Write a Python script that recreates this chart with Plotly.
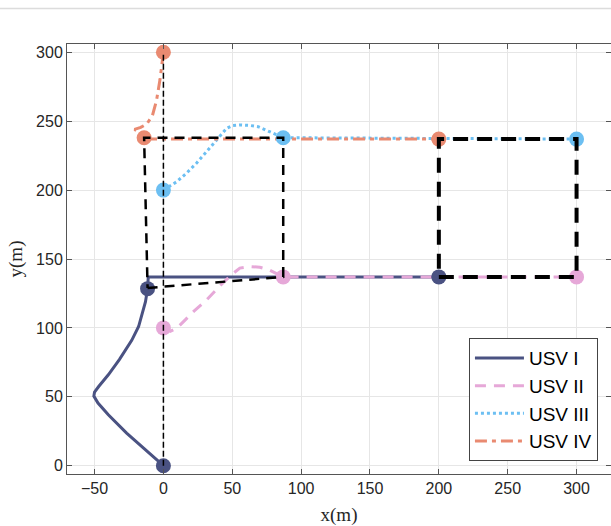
import plotly.graph_objects as go

# ---------------- data ----------------
names = ["USV I", "USV II", "USV III", "USV IV"]
colors = ["#4a5282", "#e6a8d8", "#6cbff2", "#e98a71"]

usv1_x = [0, -13, -26.7, -40, -47.5, -50.5, -50, -47, -40, -32, -23, -18, -15.5, -13, -11.5, -11, 200]
usv1_y = [0, 11.5, 23.7, 37, 45.5, 50.5, 53.5, 57.5, 66, 77, 91, 101, 110, 119, 128.5, 137, 137]

usv2_x = [0, 5, 10, 14.4, 22, 31, 43, 50, 55.5, 62.8, 70, 77, 83, 87, 300]
usv2_y = [100, 97.5, 100, 104.6, 112, 120, 132.5, 139, 143.4, 144.5, 144, 142, 139, 137, 137]

usv3_x = [0, 9.6, 17, 24, 31, 38.6, 45.9, 50, 55.5, 62, 68.8, 77, 83, 87, 300]
usv3_y = [200, 206, 212.5, 219.5, 227.5, 236.4, 244.8, 246.8, 247.3, 247, 246, 242.4, 239.5, 238, 237]

usv4_x = [0, -1.2, -2.5, -5, -8, -12, -16.5, -21, -17.5, -14.5, -14, 200]
usv4_y = [300, 290, 280, 265, 254, 248, 245.5, 244, 242, 240.5, 237, 237]

# marker points: start, formation point, final point
mk1_x, mk1_y = [0, -11.5, 200], [0, 128.5, 137]
mk2_x, mk2_y = [0, 87, 300], [100, 137, 137]
mk3_x, mk3_y = [0, 87, 300], [200, 238, 237]
mk4_x, mk4_y = [0, -14, 200], [300, 238, 237]

# reference lines
ref0_x, ref0_y = [0, 0], [0, 300]
refA_x = [-11.5, 87, 87, -14, -11.5]
refA_y = [129, 137, 238, 238, 129]
refB_x = [200, 300, 300, 200, 200]
refB_y = [137, 137, 237, 237, 137]

x_ticks = [-50, 0, 50, 100, 150, 200, 250, 300]
y_ticks = [0, 50, 100, 150, 200, 250, 300]

paths = [(usv1_x, usv1_y), (usv2_x, usv2_y), (usv3_x, usv3_y), (usv4_x, usv4_y)]
marks = [(mk1_x, mk1_y), (mk2_x, mk2_y), (mk3_x, mk3_y), (mk4_x, mk4_y)]
dashes = ["solid", "11px,8px", "3px,3px", "12px,5px,4px,5px"]

fig = go.Figure()
for (px, py), n, c, d in zip(paths, names, colors, dashes):
    fig.add_trace(go.Scatter(x=px, y=py, mode="lines", name=n,
                             line=dict(color=c, width=3, dash=d)))
for (mx, my), c in zip(marks, colors):
    fig.add_trace(go.Scatter(x=mx, y=my, mode="markers", showlegend=False,
                             marker=dict(color=c, size=15, line=dict(width=0))))

fig.add_trace(go.Scatter(x=ref0_x, y=ref0_y, mode="lines", showlegend=False,
                         line=dict(color="black", width=1.5, dash="6px,3px")))
fig.add_trace(go.Scatter(x=refA_x, y=refA_y, mode="lines", showlegend=False,
                         line=dict(color="black", width=2.5, dash="10px,7px")))
fig.add_trace(go.Scatter(x=refB_x, y=refB_y, mode="lines", showlegend=False,
                         line=dict(color="black", width=4, dash="15px,9px")))

axis_common = dict(showgrid=True, gridcolor="#e6e6e6", gridwidth=1,
                   zeroline=False, showline=True, linecolor="#555555", linewidth=1,
                   mirror="ticks", ticks="inside", ticklen=5, tickcolor="#555555",
                   tickfont=dict(family="Liberation Sans, Arial", size=16, color="#262626"))

fig.update_layout(
    width=611, height=526,
    margin=dict(l=67, r=0, t=44, b=52),
    paper_bgcolor="white", plot_bgcolor="white",
    xaxis=dict(range=[-70, 325], tickvals=x_ticks,
               title=dict(text="x(m)", standoff=12,
                          font=dict(family="Liberation Serif, Times New Roman", size=19, color="#262626")),
               **axis_common),
    yaxis=dict(range=[-6, 306], tickvals=y_ticks,
               title=dict(text="y(m)", standoff=8,
                          font=dict(family="Liberation Serif, Times New Roman", size=19, color="#262626")),
               **axis_common),
    legend=dict(x=0.976, y=0.03, xanchor="right", yanchor="bottom",
                bgcolor="white", bordercolor="#444444", borderwidth=1,
                font=dict(family="Liberation Sans, Arial", size=19, color="black"),
                tracegroupgap=0, itemwidth=49),
    showlegend=True,
    shapes=[dict(type="line", xref="paper", yref="paper", x0=-0.13, x1=1.0,
                 y0=1.0826, y1=1.0826, line=dict(color="#dcdcdc", width=1.5))],
)

fig.write_html("out.html")
